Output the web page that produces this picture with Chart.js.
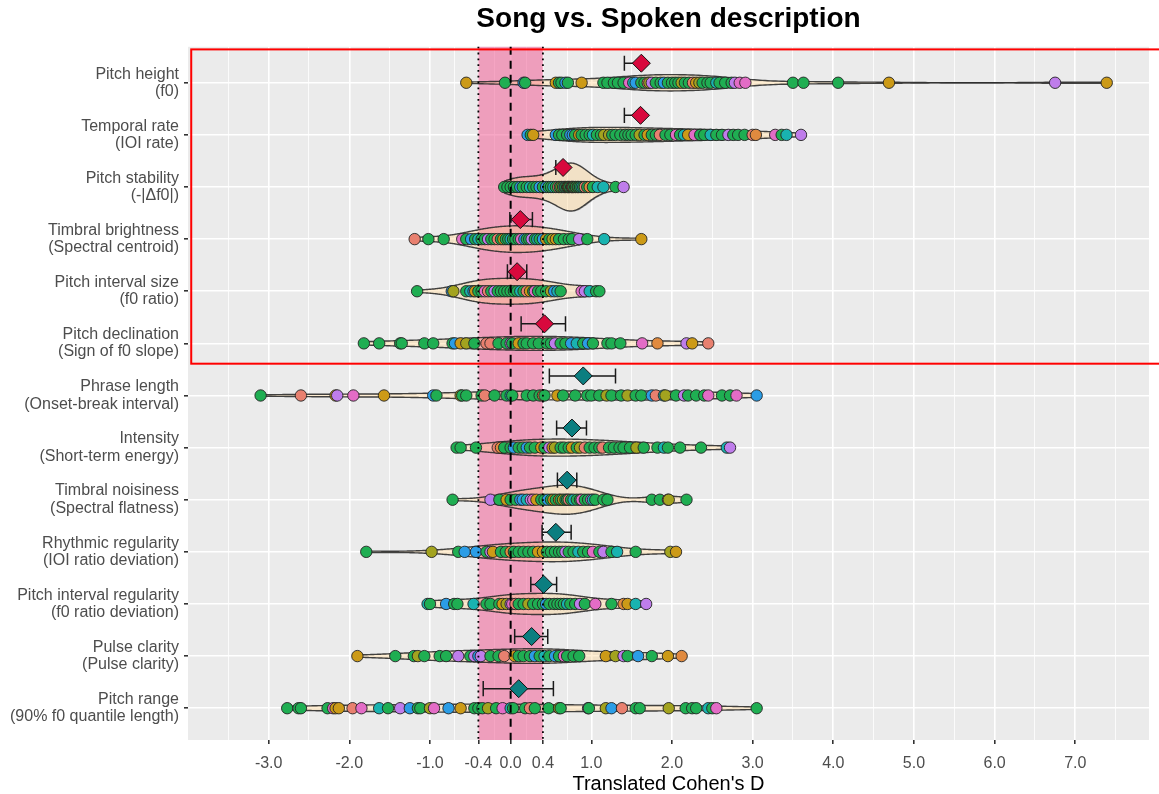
<!DOCTYPE html>
<html>
<head>
<meta charset="utf-8">
<title>Song vs. Spoken description</title>
<script src="https://cdn.jsdelivr.net/npm/chart.js@4.4.1/dist/chart.umd.min.js"></script>
<style>
  html, body { margin: 0; padding: 0; background: #ffffff; }
  #wrap { width: 1159px; height: 794px; position: relative; }
</style>
</head>
<body>
<div id="wrap"><canvas id="effectChart"></canvas></div>
<script>
// ============================================
// Song vs. Spoken description - violin + points + mean/CI
// ============================================

// features, top to bottom
const featureNames = [
    ['Pitch height', '(f0)'],
    ['Temporal rate', '(IOI rate)'],
    ['Pitch stability', '(-|\u0394f0|)'],
    ['Timbral brightness', '(Spectral centroid)'],
    ['Pitch interval size', '(f0 ratio)'],
    ['Pitch declination', '(Sign of f0 slope)'],
    ['Phrase length', '(Onset-break interval)'],
    ['Intensity', '(Short-term energy)'],
    ['Timbral noisiness', '(Spectral flatness)'],
    ['Rhythmic regularity', '(IOI ratio deviation)'],
    ['Pitch interval regularity', '(f0 ratio deviation)'],
    ['Pulse clarity', '(Pulse clarity)'],
    ['Pitch range', '(90% f0 quantile length)']
];

// per-recording effect sizes
const dPitchHeight = [-0.55, -0.07, 0.16, 0.18, 0.56, 0.60, 0.63, 0.68, 0.71, 0.88,
    1.15, 1.20, 1.28, 1.33, 1.40, 1.47, 1.52, 1.55, 1.62, 1.66,
    1.70, 1.72, 1.75, 1.80, 1.86, 1.90, 1.95, 2.00, 2.04, 2.08,
    2.12, 2.16, 2.21, 2.26, 2.30, 2.34, 2.38, 2.44, 2.48, 2.55,
    2.59, 2.66, 2.74, 2.78, 2.84, 2.91, 3.50, 3.63, 4.06, 4.69,
    6.75, 7.39];
const dTemporalRate = [0.21, 0.25, 0.28, 0.56, 0.60, 0.64, 0.70, 0.74, 0.77, 0.80,
    0.85, 0.88, 0.93, 0.98, 1.02, 1.07, 1.12, 1.16, 1.22, 1.26,
    1.30, 1.36, 1.42, 1.46, 1.50, 1.55, 1.60, 1.66, 1.70, 1.75,
    1.80, 1.85, 1.92, 1.98, 2.05, 2.10, 2.15, 2.20, 2.28, 2.35,
    2.40, 2.48, 2.55, 2.62, 2.70, 2.76, 2.82, 2.90, 3.00, 3.04,
    3.28, 3.36, 3.42, 3.60];
const dPitchStability = [-0.08, -0.04, 0.00, 0.04, 0.08, 0.12, 0.15, 0.20, 0.24, 0.28,
    0.32, 0.36, 0.40, 0.44, 0.47, 0.50, 0.53, 0.56, 0.59, 0.61,
    0.63, 0.65, 0.67, 0.68, 0.70, 0.71, 0.72, 0.73, 0.75, 0.76,
    0.77, 0.78, 0.80, 0.81, 0.83, 0.84, 0.86, 0.88, 0.90, 0.92,
    0.95, 0.98, 1.02, 1.08, 1.15, 1.30, 1.40];
const dBrightness = [-1.19, -1.02, -0.83, -0.60, -0.55, -0.49, -0.44, -0.40, -0.36, -0.32,
    -0.28, -0.24, -0.20, -0.16, -0.12, -0.09, -0.06, -0.03, 0.00, 0.03,
    0.06, 0.10, 0.13, 0.17, 0.20, 0.23, 0.26, 0.30, 0.33, 0.36,
    0.40, 0.44, 0.48, 0.52, 0.56, 0.60, 0.66, 0.72, 0.76, 0.85,
    0.95, 1.16, 1.62];
const dIntervalSize = [-1.16, -0.73, -0.71, -0.55, -0.50, -0.46, -0.44, -0.40, -0.36, -0.32,
    -0.28, -0.24, -0.20, -0.16, -0.12, -0.08, -0.04, 0.00, 0.04, 0.08,
    0.12, 0.16, 0.20, 0.24, 0.28, 0.30, 0.34, 0.38, 0.44, 0.50,
    0.54, 0.58, 0.62, 0.88, 0.92, 0.98, 1.06, 1.10];
const dDeclination = [-1.82, -1.63, -1.37, -1.35, -1.07, -0.96, -0.72, -0.69, -0.62, -0.55,
    -0.45, -0.30, -0.25, -0.15, -0.05, 0.00, 0.02, 0.10, 0.16, 0.20,
    0.28, 0.35, 0.45, 0.50, 0.55, 0.62, 0.68, 0.75, 0.82, 0.90,
    0.96, 1.02, 1.20, 1.25, 1.36, 1.63, 1.82, 2.18, 2.25, 2.45];
const dPhraseLength = [-3.10, -2.60, -2.17, -2.15, -1.95, -1.57, -0.96, -0.92, -0.62, -0.60,
    -0.55, -0.36, -0.32, -0.20, -0.05, 0.00, 0.02, 0.20, 0.28, 0.36,
    0.40, 0.42, 0.58, 0.65, 0.80, 0.95, 1.00, 1.10, 1.19, 1.25,
    1.37, 1.45, 1.55, 1.62, 1.75, 1.80, 1.90, 1.92, 2.05, 2.15,
    2.20, 2.30, 2.40, 2.45, 2.62, 2.72, 2.80, 3.05];
const dIntensity = [-0.67, -0.62, -0.43, -0.16, -0.12, -0.08, 0.00, 0.04, 0.10, 0.15,
    0.20, 0.24, 0.30, 0.38, 0.42, 0.48, 0.52, 0.55, 0.62, 0.66,
    0.72, 0.76, 0.82, 0.86, 0.92, 0.98, 1.04, 1.10, 1.14, 1.22,
    1.28, 1.35, 1.40, 1.48, 1.56, 1.65, 1.82, 1.90, 1.95, 2.10,
    2.36, 2.68, 2.72];
const dNoisiness = [-0.72, -0.25, -0.14, -0.05, 0.00, 0.06, 0.12, 0.15, 0.20, 0.25,
    0.28, 0.32, 0.38, 0.42, 0.46, 0.50, 0.53, 0.56, 0.60, 0.62,
    0.65, 0.68, 0.70, 0.72, 0.75, 0.78, 0.82, 0.86, 0.88, 0.92,
    0.96, 1.00, 1.02, 1.05, 1.15, 1.20, 1.75, 1.85, 1.95, 1.96,
    2.18];
const dRhythmic = [-1.79, -0.98, -0.65, -0.57, -0.43, -0.30, -0.25, -0.22, -0.12, -0.06,
    0.00, 0.04, 0.10, 0.16, 0.22, 0.28, 0.34, 0.40, 0.45, 0.50,
    0.55, 0.60, 0.64, 0.68, 0.72, 0.78, 0.84, 0.90, 0.96, 1.02,
    1.10, 1.15, 1.25, 1.32, 1.55, 1.98, 2.05];
const dIntervalReg = [-1.03, -1.00, -0.80, -0.70, -0.66, -0.46, -0.30, -0.25, -0.14, -0.10,
    -0.05, 0.00, 0.02, 0.06, 0.10, 0.16, 0.22, 0.28, 0.34, 0.40,
    0.44, 0.48, 0.54, 0.58, 0.62, 0.66, 0.70, 0.74, 0.80, 0.86,
    0.92, 1.05, 1.25, 1.40, 1.45, 1.55, 1.68];
const dPulseClarity = [-1.90, -1.43, -1.20, -1.15, -1.07, -0.88, -0.80, -0.65, -0.50, -0.45,
    -0.40, -0.37, -0.25, -0.15, -0.08, 0.05, 0.10, 0.16, 0.24, 0.30,
    0.36, 0.42, 0.48, 0.55, 0.60, 0.66, 0.70, 0.78, 0.85, 1.18,
    1.30, 1.40, 1.45, 1.58, 1.75, 1.95, 2.12];
const dPitchRange = [-2.77, -2.63, -2.60, -2.27, -2.20, -2.17, -2.13, -1.96, -1.85, -1.63,
    -1.52, -1.37, -1.25, -1.15, -1.12, -1.00, -0.95, -0.77, -0.62, -0.45,
    -0.40, -0.35, -0.28, -0.18, -0.10, 0.00, 0.03, 0.18, 0.24, 0.30,
    0.47, 0.60, 0.62, 0.96, 0.97, 1.18, 1.25, 1.38, 1.55, 1.60,
    1.96, 2.17, 2.25, 2.30, 2.45, 2.50, 2.55, 3.05];

// group of each point (one letter per point, same order as above)
const gPitchHeight   = 'ygbgyggbgy' + 'gggggptbgg' + 'sovggbgggg' + 'oggsyogggt' + 'gggvppgggy' + 'vy';
const gTemporalRate  = 'bgybgggbbg' + 'ygggtggoog' + 'ggggggogyg' + 'gsggpgtypg' + 'gtggvgggsr' + 'pgtv';
const gPitchStab     = 'gggggbggtg' + 'gbgbggtgsg' + 'ogvggyoggy' + 'sgygoggtgs' + 'grgttgv';
const gBrightness    = 'sggpgbgtgg' + 'vggsgyggtg' + 'ggpbggvgtg' + 'bygoyggggv' + 'gty';
const gIntervalSize  = 'gbogtbyggp' + 'sgvggggggg' + 'tgsygpgggo' + 'btgpvtgg';
const gDeclination   = 'gggggggbyo' + 'gssggvgygg' + 'ggggvggbtg' + 'bggggprvys';
const gPhraseLength  = 'gsyvpybgog' + 'ggsggtgggg' + 'rgygggggog' + 'goggbstogv' + 'gggpggpb';
const gIntensity     = 'gggsrggbgg' + 'bggygvyogg' + 'gygosgggsg' + 'ggggoggtgg' + 'gtv';
const gNoisiness     = 'gvgyggbbtv' + 'pyggbgygyg' + 'oggsgtggpg' + 'gvtgggggso' + 'g';
const gRhythmic      = 'gogbbgvygg' + 'rgggggyygg' + 'gggvggtggp' + 'gvgtgoy';
const gIntervalReg   = 'tgbggtgggy' + 'ovpsggoggg' + 'bgggggtggv' + 'gpgrytv';
const gPulseClarity  = 'yggogggvgv' + 'bvggsygggb' + 'gtgbgpgggy' + 'ovgbgyr';
const gPitchRange    = 'ggggpyyspt' + 'gvbggopbyg' + 'ggogptggsg' + 'gogvgobsgg' + 'ogggtgpg';

const rowValues = [dPitchHeight, dTemporalRate, dPitchStability, dBrightness, dIntervalSize,
    dDeclination, dPhraseLength, dIntensity, dNoisiness, dRhythmic, dIntervalReg,
    dPulseClarity, dPitchRange];
const rowGroups = [gPitchHeight, gTemporalRate, gPitchStab, gBrightness, gIntervalSize,
    gDeclination, gPhraseLength, gIntensity, gNoisiness, gRhythmic, gIntervalReg,
    gPulseClarity, gPitchRange];

// mean effect and its interval per feature
const meanD = [1.62, 1.61, 0.65, 0.12, 0.08, 0.42, 0.90, 0.76, 0.70, 0.56, 0.41, 0.26, 0.10];
const ciLow = [1.41, 1.41, 0.56, -0.01, -0.04, 0.13, 0.48, 0.57, 0.58, 0.39, 0.25, 0.05, -0.34];
const ciHigh = [1.62, 1.61, 0.65, 0.27, 0.20, 0.68, 1.30, 0.94, 0.82, 0.75, 0.57, 0.46, 0.53];
const highlightCount = 6;   // first six features are boxed in red

// axis ticks
const xMajorTicks = [-3, -2, -1, -0.4, 0, 0.4, 1, 2, 3, 4, 5, 6, 7];
const xMinorTicks = [-3.5, -2.5, -1.5, -0.7, -0.2, 0.2, 0.7, 1.5, 2.5, 3.5, 4.5, 5.5, 6.5, 7.5];
const equivBand = [-0.4, 0.4];
const refLines = [-0.4, 0, 0.4];

// ---------- styling ----------
const FONT = "'Liberation Sans', Arial, Helvetica, sans-serif";
const groupColors = {
    g: '#1FAE52', o: '#A3A31F', y: '#CC9A17', b: '#2B9DE6', t: '#19B3B0',
    p: '#E36CC6', v: '#BF7DEB', s: '#E8806F', r: '#E08A3F'
};
const X_MIN = -4.0, X_MAX = 7.914;
const Y_MIN = -0.69, Y_MAX = 12.61;
const MEAN_OFFSET = 0.375;
const CAP_HALF = 0.145;
const VIOLIN_HALF = 0.46;

/**
 * Gaussian KDE with R's nrd0 bandwidth, trimmed to the data range
 */
function quantile(sorted, p) {
    const h = (sorted.length - 1) * p;
    const lo = Math.floor(h);
    const hi = Math.min(lo + 1, sorted.length - 1);
    return sorted[lo] + (h - lo) * (sorted[hi] - sorted[lo]);
}

function densityCurve(vals) {
    const n = vals.length;
    const mean = vals.reduce((a, b) => a + b, 0) / n;
    const sd = Math.sqrt(vals.reduce((a, b) => a + (b - mean) * (b - mean), 0) / (n - 1));
    const sorted = [...vals].sort((a, b) => a - b);
    const iqr = quantile(sorted, 0.75) - quantile(sorted, 0.25);
    let spread = Math.min(sd, iqr / 1.34);
    if (!(spread > 0)) spread = sd || 1;
    const bw = 0.9 * spread * Math.pow(n, -0.2);
    const lo = sorted[0], hi = sorted[n - 1];
    const pts = [];
    const steps = 240;
    for (let k = 0; k <= steps; k++) {
        const x = lo + (hi - lo) * k / steps;
        let s = 0;
        for (const v of vals) {
            const z = (x - v) / bw;
            s += Math.exp(-0.5 * z * z);
        }
        pts.push({ x, d: s / (n * bw * Math.sqrt(2 * Math.PI)) });
    }
    return pts;
}

// ---------- datasets ----------
const datasets = [];

const curves = rowValues.map(densityCurve);
const densMax = Math.max(...curves.flatMap(c => c.map(p => p.d)));

curves.forEach((curve, i) => {
    const common = {
        type: 'line',
        role: 'violin',
        borderColor: 'rgba(45,45,45,0.9)',
        borderWidth: 1.4,
        pointRadius: 0,
        tension: 0,
        order: 3
    };
    datasets.push({
        ...common,
        data: curve.map(p => ({ x: p.x, y: i - VIOLIN_HALF * p.d / densMax })),
        fill: false
    });
    datasets.push({
        ...common,
        data: curve.map(p => ({ x: p.x, y: i + VIOLIN_HALF * p.d / densMax })),
        fill: '-1',
        backgroundColor: 'rgba(255,206,125,0.34)'
    });
});

rowValues.forEach((vals, i) => {
    datasets.push({
        type: 'scatter',
        role: 'points',
        data: vals.map(v => ({ x: v, y: i })),
        backgroundColor: vals.map((v, k) => groupColors[rowGroups[i][k]] || groupColors.g),
        borderColor: 'rgba(35,35,35,0.9)',
        borderWidth: 1,
        pointRadius: 5.7,
        pointHoverRadius: 5.7,
        order: 2
    });
});

// error bars: caps + horizontal bar, separated by gaps
const errData = [];
meanD.forEach((m, i) => {
    const y = i - MEAN_OFFSET;
    errData.push({ x: ciLow[i], y: y - CAP_HALF }, { x: ciLow[i], y: y + CAP_HALF }, { x: ciLow[i], y: null });
    errData.push({ x: ciLow[i], y: y }, { x: ciHigh[i], y: y }, { x: ciHigh[i], y: null });
    errData.push({ x: ciHigh[i], y: y - CAP_HALF }, { x: ciHigh[i], y: y + CAP_HALF }, { x: ciHigh[i], y: null });
});
datasets.push({
    type: 'line',
    role: 'err',
    data: errData,
    borderColor: '#1A1A1A',
    borderWidth: 1.5,
    pointRadius: 0,
    spanGaps: false,
    fill: false,
    order: 1
});

datasets.push({
    type: 'scatter',
    role: 'mean',
    data: meanD.map((m, i) => ({ x: m, y: i - MEAN_OFFSET })),
    pointStyle: 'rectRot',
    pointRadius: 9,
    pointHoverRadius: 9,
    backgroundColor: meanD.map((m, i) => i < highlightCount ? '#D8093D' : '#0B7E80'),
    borderColor: '#111111',
    borderWidth: 1,
    order: 0
});

// ---------- plugin: panel, band, reference lines, red box ----------
const panelPlugin = {
    id: 'panelDecor',
    beforeDraw(chart) {
        const { ctx, chartArea: a } = chart;
        ctx.save();
        ctx.fillStyle = '#EBEBEB';
        ctx.fillRect(a.left, a.top, a.right - a.left, a.bottom - a.top);
        ctx.restore();
    },
    beforeDatasetsDraw(chart) {
        const { ctx, chartArea: a, scales: { x } } = chart;
        const x0 = x.getPixelForValue(equivBand[0]);
        const x1 = x.getPixelForValue(equivBand[1]);
        ctx.save();
        ctx.fillStyle = 'rgba(240,95,150,0.55)';
        ctx.fillRect(x0, a.top, x1 - x0, a.bottom - a.top);
        ctx.restore();
    },
    beforeDatasetDraw(chart, args) {
        const ds = chart.data.datasets[args.index];
        if (ds.role !== 'err') return;
        const { ctx, chartArea: a, scales: { x } } = chart;
        ctx.save();
        ctx.strokeStyle = '#000000';
        refLines.forEach(v => {
            const px = x.getPixelForValue(v);
            ctx.beginPath();
            if (v === 0) {
                ctx.lineWidth = 2;
                ctx.setLineDash([8, 6]);
            } else {
                ctx.lineWidth = 1.8;
                ctx.setLineDash([1.8, 4]);
            }
            ctx.moveTo(px, a.top);
            ctx.lineTo(px, a.bottom);
            ctx.stroke();
        });
        ctx.restore();
    },
    afterDatasetsDraw(chart) {
        const { ctx, scales: { x, y } } = chart;
        const left = x.getPixelForValue(-3.96);
        const right = x.getPixelForValue(X_MAX + 0.3);
        const top = y.getPixelForValue(-0.64);
        const bottom = y.getPixelForValue(highlightCount - 0.61);
        ctx.save();
        ctx.strokeStyle = '#FF0000';
        ctx.lineWidth = 2;
        ctx.strokeRect(left, top, right - left, bottom - top);
        ctx.restore();
    }
};

const xMajorSet = new Set(xMajorTicks);

Chart.defaults.font.family = FONT;

const chart = new Chart(document.getElementById('effectChart'), {
    type: 'scatter',
    data: { datasets },
    plugins: [panelPlugin],
    options: {
        responsive: true,
        maintainAspectRatio: false,
        animation: false,
        events: [],
        layout: { padding: { left: 0, right: 0, top: 0, bottom: 0 } },
        plugins: {
            legend: { display: false },
            tooltip: { enabled: false },
            title: {
                display: true,
                fullSize: false,
                text: 'Song vs. Spoken description',
                color: '#000000',
                font: { family: FONT, size: 28, weight: 'bold', lineHeight: 1.1 },
                padding: { top: 4, bottom: 12 }
            }
        },
        scales: {
            x: {
                type: 'linear',
                min: X_MIN,
                max: X_MAX,
                afterBuildTicks: s => {
                    s.ticks = [...xMajorTicks, ...xMinorTicks].sort((a, b) => a - b).map(v => ({ value: v }));
                },
                afterFit: s => { s.height = 54; },
                border: { display: false },
                grid: {
                    color: '#FFFFFF',
                    lineWidth: c => (c.tick && xMajorSet.has(c.tick.value)) ? 1.6 : 0.8,
                    tickColor: c => (c.tick && xMajorSet.has(c.tick.value)) ? '#333333' : 'rgba(0,0,0,0)',
                    tickLength: 4
                },
                ticks: {
                    autoSkip: false,
                    maxRotation: 0,
                    minRotation: 0,
                    padding: 10,
                    color: '#4D4D4D',
                    font: { family: FONT, size: 16 },
                    callback: v => xMajorSet.has(v) ? v.toFixed(1) : ''
                },
                title: {
                    display: true,
                    text: "Translated Cohen's D",
                    color: '#000000',
                    font: { family: FONT, size: 20, lineHeight: 1 },
                    padding: { top: 0, bottom: 0 }
                }
            },
            y: {
                type: 'linear',
                reverse: true,
                min: Y_MIN,
                max: Y_MAX,
                afterBuildTicks: s => {
                    s.ticks = featureNames.map((f, i) => ({ value: i }));
                },
                afterFit: s => { s.width = 188; },
                border: { display: false },
                grid: {
                    color: '#FFFFFF',
                    lineWidth: 1.6,
                    tickColor: '#333333',
                    tickLength: 4
                },
                ticks: {
                    autoSkip: false,
                    padding: 5,
                    color: '#4D4D4D',
                    font: { family: FONT, size: 16, lineHeight: 1.08 },
                    callback: v => featureNames[v] || ''
                }
            }
        }
    }
});
</script>
</body>
</html>
